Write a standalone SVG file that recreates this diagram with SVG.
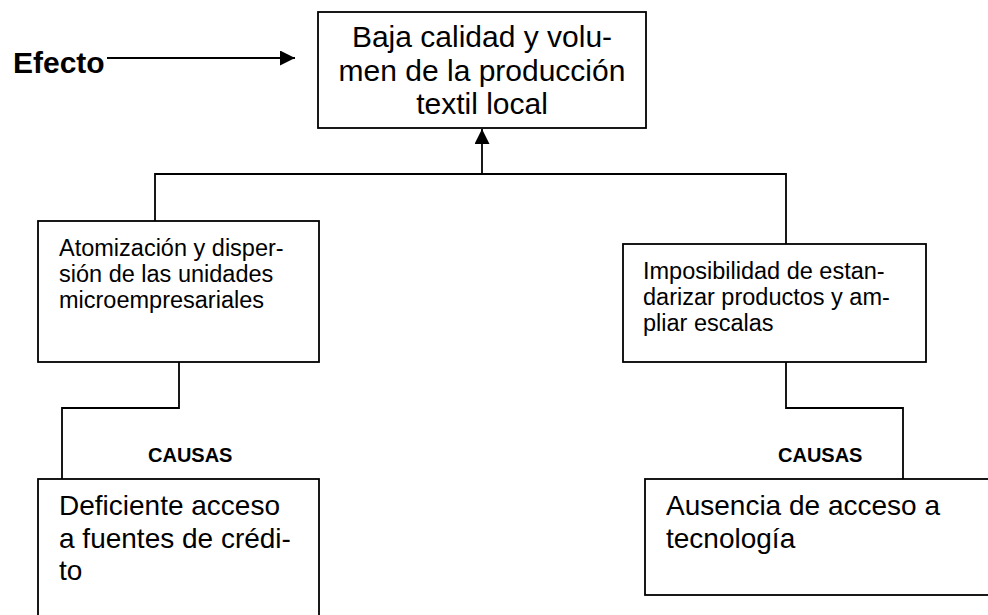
<svg xmlns="http://www.w3.org/2000/svg" width="988" height="615" viewBox="0 0 988 615">
<style>
.box{fill:#fff;stroke:#000;stroke-width:1.8}
.ln{fill:none;stroke:#000;stroke-width:1.8}
text{font-family:"Liberation Sans",Arial,sans-serif;fill:#000}
.t30{font-size:30px}
.t23{font-size:23.5px}
.t28{font-size:28px}
.b30{font-size:30px;font-weight:bold}
.b20{font-size:20px;font-weight:bold}
</style>
<defs>
<marker id="ah" markerUnits="userSpaceOnUse" markerWidth="16" markerHeight="16" refX="15" refY="7.5" orient="auto">
<path d="M0,0 L15,7.5 L0,15 Z" fill="#000"/>
</marker>
</defs>
<rect width="988" height="615" fill="#fff"/>
<g id="connectors">
<line class="ln" x1="107" y1="58" x2="295" y2="58" marker-end="url(#ah)"/>
<line class="ln" x1="482" y1="174" x2="482" y2="129" marker-end="url(#ah)"/>
<polyline class="ln" points="155,221 155,174 786,174 786,244"/>
<polyline class="ln" points="179,362 179,408 62,408 62,479"/>
<polyline class="ln" points="786,362 786,408 903,408 903,479"/>
</g>
<g id="efecto-label">
<text class="b30" x="13" y="73">Efecto</text>
</g>
<g id="efecto">
<rect class="box" x="318" y="12" width="328" height="116"/>
<text class="t30" text-anchor="middle" x="482" y="47">Baja calidad y volu-</text>
<text class="t30" text-anchor="middle" x="482" y="80.5">men de la producción</text>
<text class="t30" text-anchor="middle" x="482" y="114">textil local</text>
</g>
<g id="atomizacion">
<rect class="box" x="38" y="221" width="281" height="141"/>
<text class="t23" x="59" y="256">Atomización y disper-</text>
<text class="t23" x="59" y="282">sión de las unidades</text>
<text class="t23" x="59" y="308">microempresariales</text>
</g>
<g id="imposibilidad">
<rect class="box" x="623" y="244" width="303" height="118"/>
<text class="t23" x="643" y="279">Imposibilidad de estan-</text>
<text class="t23" x="643" y="305">darizar productos y am-</text>
<text class="t23" x="643" y="331">pliar escalas</text>
</g>
<g id="causas-izq">
<text class="b20" x="148" y="462">CAUSAS</text>
</g>
<g id="causas-der">
<text class="b20" x="778" y="462">CAUSAS</text>
</g>
<g id="credito">
<rect class="box" x="38" y="479" width="281" height="150"/>
<text class="t28" x="59" y="515">Deficiente acceso</text>
<text class="t28" x="59" y="547.5">a fuentes de crédi-</text>
<text class="t28" x="59" y="580">to</text>
</g>
<g id="tecnologia">
<rect class="box" x="645" y="479" width="360" height="116"/>
<text class="t28" x="666" y="515">Ausencia de acceso a</text>
<text class="t28" x="666" y="547.5">tecnología</text>
</g>
</svg>
